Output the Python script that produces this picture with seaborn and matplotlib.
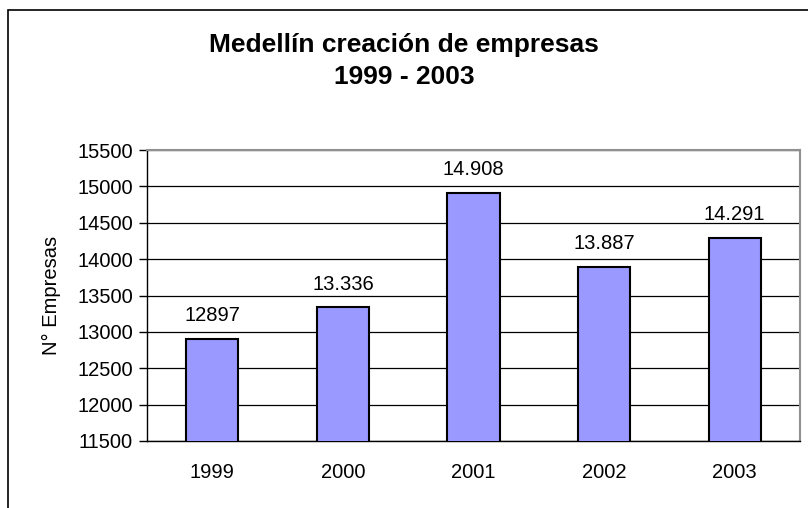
import pandas as pd
import seaborn as sns
from matplotlib import pyplot as plt
from matplotlib.patches import Rectangle

# data
years = ["1999", "2000", "2001", "2002", "2003"]
empresas = [12897, 13336, 14908, 13887, 14291]
value_labels = ["12897", "13.336", "14.908", "13.887", "14.291"]
y_ticks = list(range(11500, 15501, 500))

df = pd.DataFrame({"year": years, "empresas": empresas})

sns.set_style("white")
plt.rcParams['font.family'] = ['Liberation Sans', 'DejaVu Sans']
plt.rcParams['text.color'] = 'black'
plt.rcParams['axes.labelcolor'] = 'black'
plt.rcParams['xtick.color'] = 'black'
plt.rcParams['ytick.color'] = 'black'

fig = plt.figure(figsize=(8.08, 5.08), dpi=100)
ax = fig.add_axes([147 / 808, 1 - 441 / 508, 653 / 808, 291 / 508])

sns.barplot(data=df, x="year", y="empresas", color="#9999ff", width=0.4,
            edgecolor="black", linewidth=1.5, saturation=1, ax=ax, zorder=3)

ax.set_ylim(11500, 15500)
ax.set_xlim(-0.5, 4.5)
ax.set_yticks(y_ticks)
ax.set_yticklabels([str(t) for t in y_ticks], fontsize=14.5)
ax.yaxis.grid(True, color="black", linewidth=0.9, zorder=0)
ax.set_axisbelow(True)

# x ticks between categories, labels at centres
ax.set_xticks(range(len(years)))
ax.set_xticklabels(years, fontsize=14.5)
ax.tick_params(axis="x", length=0, pad=16)
ax.set_xticks([i - 0.5 for i in range(len(years) + 1)], minor=True)
ax.tick_params(axis="x", which="minor", length=6, width=1, color="black", direction="out")
ax.tick_params(axis="y", length=6, width=1, color="black", direction="out", pad=4, left=True)

for side in ["left", "bottom"]:
    ax.spines[side].set_color("black")
    ax.spines[side].set_linewidth(1)
for side in ["top", "right"]:
    ax.spines[side].set_color("#909090")
    ax.spines[side].set_linewidth(1.5)

for i, (v, lab) in enumerate(zip(empresas, value_labels)):
    ax.annotate(lab, (i, v), xytext=(0, 10), textcoords="offset points",
                ha="center", va="bottom", fontsize=14.5)

ax.set_xlabel("")
ax.set_ylabel("N° Empresas", fontsize=14.5, labelpad=12)

fig.text(0.5, 1 - 45 / 508, "Medellín creación de empresas", ha="center", va="center",
         fontsize=19, fontweight="bold")
fig.text(0.5, 1 - 77 / 508, "1999 - 2003", ha="center", va="center",
         fontsize=19, fontweight="bold")

# outer chart frame
fig.patches.append(Rectangle((8 / 808, -0.1), 1.2, 1.1 - 10 / 508, transform=fig.transFigure,
                             fill=False, edgecolor="black", linewidth=1.2))

fig.savefig("out.png", dpi=100)
